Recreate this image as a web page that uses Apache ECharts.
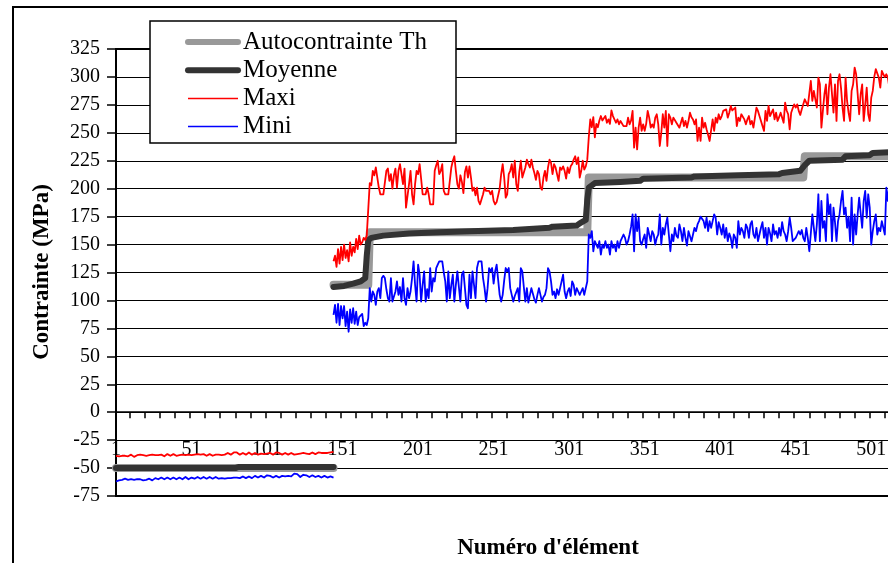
<!DOCTYPE html>
<html><head><meta charset="utf-8">
<script src="https://cdn.jsdelivr.net/npm/echarts@6/dist/echarts.min.js"></script>
<style>html,body{margin:0;padding:0;overflow:hidden;background:#fff}#c{width:1100px;height:563px}</style>
</head><body><div id="c"></div><script>
const FONT = "'Liberation Serif','Times New Roman',serif";

// element numbers (category axis)
const elementCount = 573;
const categories = [];
for (let i = 1; i <= elementCount; i++) categories.push(String(i));

const seriesNames = ['Autocontrainte Th', 'Moyenne', 'Maxi', 'Mini'];

// ---- negative block : elements 1..145 ----
const negStart = 1;
const maxiNeg = [-39,-38.5,-39.5,-38,-39,-40,-39,-38.5,-39.5,-39,-38,-39,-40,-39.5,-38.5,-39,-38,-39,-38.5,-39.5,
-39,-38,-38.5,-39.5,-38,-39,-38.5,-37.5,-38.5,-39,-38,-39,-39.5,-38,-37.5,-38.5,-39,-38,-37.5,-38.5,
-39,-38,-38.5,-37.5,-38,-39,-38.5,-37.5,-38,-39,-38.5,-37.5,-38,-39,-37.5,-36.5,-38,-38.5,-37.5,-38,
-39,-38.5,-37.5,-38,-39,-38.5,-38,-37,-38,-39,-38.5,-37.5,-38,-37,-36.5,-37.5,-38,-37.5,-36,-35.5,
-36,-37,-38,-37,-36.5,-37.5,-38,-37,-36,-37,-38,-37.5,-36.5,-37,-38,-38.5,-37,-36.5,-37.5,-38,
-37,-36,-36.5,-37.5,-38,-37,-36,-35.5,-36.5,-37.5,-38,-37,-36.5,-37.5,-38,-37.5,-36.5,-37,-38,-38.5,
-37.5,-36.5,-37,-37.5,-36.5,-36,-37,-38,-37.5,-36.5,-36,-36.5,-37.5,-37,-36,-35.5,-36.5,-37,-36.5,-36,
-36.5,-35.5,-36,-36.5,-35.5];
const miniNeg = [-62,-62.5,-61,-60,-60.5,-61,-59.5,-60,-60.5,-61,-60,-59.5,-60.5,-61,-60,-59,-60,-60.5,-61,-61.5,
-60.5,-60,-59.5,-60,-61,-60,-59,-59.5,-60,-59,-58.5,-59.5,-60,-59,-58.5,-59,-60,-59.5,-58.5,-59,
-60,-59.5,-58.5,-59,-60,-59,-58,-59,-60,-59.5,-58.5,-59,-59.5,-58.5,-58,-59,-59.5,-58.5,-58,-58.5,
-59.5,-59,-58,-58.5,-59.5,-59,-58,-58.5,-59.5,-60,-59,-58.5,-59.5,-60,-59,-58,-59,-59.5,-58.5,-58,
-58.5,-59.5,-59,-58,-57.5,-58.5,-59,-58,-57.5,-58.5,-59,-58,-57,-58,-58.5,-57.5,-57,-58,-58.5,-57.5,
-56.5,-55.5,-57,-58,-58.5,-57.5,-57,-58,-58.5,-57.5,-57,-58,-57.5,-56.5,-57,-58,-57.5,-56,-55,-54.5,
-55.5,-57,-58,-57,-56,-55,-56.5,-57.5,-58,-57,-56.5,-57.5,-58,-57.5,-57,-58,-58.5,-57.5,-57,-58,
-58.5,-58,-57.5,-58,-58.5];
const moyenneNegElem = [1, 80, 82, 145];
const moyenneNegVal = [-50, -50, -49, -49];
const thNegElem = [1, 145];
const thNegVal = [-50, -50];

// ---- positive block : elements 145.. ----
const posStart = 145;
const maxiPos = [
135,140,130,146,133,148,136,150,138,145,135,152,140,148,143,155,146,158,150,152,156,154,158,157,
205,203,216,212,219,210,201,195,195,195,195,216,218,207,213,200,212,218,201,216,222,213,204,218,183,184,
204,216,195,186,204,216,213,222,209,195,195,195,201,195,186,186,186,216,221,225,213,216,222,198,195,195,
195,195,219,225,229,216,204,
200,212,206,196,215,220,210,
220,210,198,201,194,201,189,186,186,195,201,198,198,198,195,198,189,186,188,188,200,213,222,210,192,195,
213,216,222,210,225,204,198,215,225,210,210,219,226,222,219,226,219,214,208,216,213,201,199,210,216,207,
219,226,223,213,222,219,219,207,219,217,220,216,209,219,214,220,222,226,229,222,228,210,216,225,217,220,226,
246,262,255,264,246,258,255,261,265,261,262,265,259,262,258,270,265,
263.6,259,262,257.6,260.6,260.6,256,254.6,256,263.6,257.6,261,269.6,236.7,254.6,235.2,254.6,263.6,251.7,257.6,
251.7,258,269.6,263.6,254.6,257.6,254.6,263.6,266.6,257.6,238.2,250,266.6,254.6,269.6,238.2,266.6,263.6,257.6,263.6,
262,259,257.6,254.6,254.6,263.6,256,260.6,254.6,260.6,268,264,262,257.6,262,242.7,254.6,242.7,263.6,254.6,
259,253,248,242.7,242.7,262,251.7,263.6,259,266.6,262,265,269.6,268,271,263.6,268,274,270,269.6,
272.6,256,263.6,260.6,266.6,265,262,257.6,262,265,257.6,260.6,254.6,263.6,272.6,269.6,
265,260.6,256,251.7,269.6,260.6,274,265,268,271,262,268,260.6,264,268,263.6,259,277,270,266.6,
253,268,272,275.5,272.6,275.5,269.6,266,271,272.6,280,277,274,272.6,296.4,278.5,287.5,280,272.6,299.4,
293.4,254.6,270,284.5,293.4,266.6,290.4,302.4,285,268,293.4,260.6,296.4,302.4,290,272.6,260.6,299.4,278.5,268,
260.6,287.5,293.4,308.4,302.4,285,266.6,284.5,293.4,260.6,275,290.4,266.6,260.6,281.5,287.5,300,307,308.4,299.4,
290.4,305.4,302.4,300,302.4,299.4,290.4,284.5,260.6,275.5,287.5,293.4];
const miniPos = [
87,96,80,97,78,95,84,95,77,90,72,92,80,93,79,90,78,85,86,88,77,80,78,84,
111,99,108,105,96,108,111,102,120,122,120,110,102,99,120,99,99,108,117,105,
112,99,120,102,96,111,102,108,120,135,114,99,132,123,99,114,126,99,110,102,
129,108,120,117,129,132,135,135,135,125,117,99,126,102,114,123,99,114,126,112,
99,123,126,111,96,93,123,102,126,
126,102,129,135,135,135,120,111,99,111,129,126,129,115,126,132,131,105,99,105,
118,129,126,129,111,105,99,104,105,111,99,129,126,112,99,111,98,99,111,106,
101,98,105,111,105,99,103,105,111,129,126,117,105,108,102,110,105,111,117,123,
108,102,108,111,104,117,114,105,111,108,105,108,111,105,111,117,
159,156,162,144,153,150,147,153,141,150,147,153,147,150,141,153,147,
150,144,153,147,153,156,159,156,150,153,159,166,177,144,177,162,174,153,150,155,
159,147,165,159,153,162,159,150,156,159,177,150,165,159,168,174,159,144,159,153,
165,158,156,168,162,153,165,156,149,162,162,153,159,165,162,168,171,175,174,171,
165,174,162,171,165,171,177,174,159,170,165,159,168,156,165,153,160,156,147,159,
156,147,171,159,165,162,156,168,165,156,168,171,159,156,165,153,
159,165,170,156,165,150,165,160,153,168,159,162,156,165,158,170,162,159,153,162,
174,165,153,153,156,159,162,159,163,156,153,165,156,144,160,177,165,153,168,195,
153,189,165,171,153,195,177,186,153,183,170,153,171,177,189,198,177,183,165,175,
153,192,150,177,159,177,192,178,165,189,198,174,195,183,150,162,171,177,159,165,
162,171,165,159,201,189,204,192];
const moyennePosElem = [145,152,158,163,166,167,168,170,178,195,215,235,264,265,288,290,306,308,312,313,314,318,335,348,350,382,384,413,440,442,454,457,460,482,484,500,502,520];
const moyennePosVal  = [112,113,115,117,120,140,154,156,158,160,161,162,163,164,165,166,167,169,172,190,201,205,206,207,209,210,211,212,213,214,216,221,225,226,229,230,232,233];
const thPosElem = [145,168,169,313,314,456,457,520];
const thPosVal  = [114,114,161,161,210,210,229,229];

// y axis
const yMin = -75, yMax = 325, yStep = 25;

function seq(start, vals) { return vals.map((v, k) => [start - 1 + k, v]); }
function pairs(elems, vals) { return elems.map((e, k) => [e - 1, vals[k]]); }

const COLORS = { th: '#999999', moy: '#333333', maxi: '#ff0000', mini: '#0000ff' };
function thick(name, color, w, data) {
  return { name, type: 'line', symbol: 'none', data, animation: false,
    lineStyle: { color, width: w, cap: 'round', join: 'round' }, itemStyle: { color } };
}
function thin(name, color, data) {
  return { name, type: 'line', symbol: 'none', data, animation: false,
    lineStyle: { color, width: 1.8, join: 'round' }, itemStyle: { color } };
}
const hiddenSymbol = { opacity: 0, borderWidth: 0 };

const chart = echarts.init(document.getElementById('c'), null, { renderer: 'canvas' });
chart.setOption({
  animation: false,
  backgroundColor: '#fff',
  grid: { left: 116, top: 49, width: 864, height: 447, show: true, borderColor: '#000', borderWidth: 2, backgroundColor: 'transparent' },
  xAxis: {
    type: 'category', data: categories, boundaryGap: false,
    axisLine: { onZero: true, lineStyle: { color: '#000', width: 1.5 } },
    axisTick: { show: true, interval: (i) => i % 10 === 9, length: 6, lineStyle: { color: '#000', width: 1.5 } },
    axisLabel: { interval: 49, margin: -56, showMinLabel: true, hideOverlap: false, color: '#000', fontFamily: FONT, fontSize: 20 },
    splitLine: { show: false }
  },
  yAxis: {
    type: 'value', min: yMin, max: yMax, interval: yStep,
    axisLine: { show: true, onZero: false, lineStyle: { color: '#000', width: 2 } },
    axisTick: { show: true, length: 9, lineStyle: { color: '#000', width: 1.5 } },
    axisLabel: { margin: 16, color: '#000', fontFamily: FONT, fontSize: 20 },
    splitLine: { show: true, lineStyle: { color: '#000', width: 1.2 } }
  },
  legend: {
    orient: 'vertical', left: 185, top: 28, padding: 0, itemWidth: 50, itemHeight: 14, itemGap: 0.2,
    z: 20, selectedMode: false,
    textStyle: { fontFamily: FONT, fontSize: 25, color: '#000', lineHeight: 28 },
    data: [
      { name: seriesNames[0], itemStyle: hiddenSymbol, lineStyle: { width: 6, color: COLORS.th, cap: 'round' } },
      { name: seriesNames[1], itemStyle: hiddenSymbol, lineStyle: { width: 6, color: COLORS.moy, cap: 'round' } },
      { name: seriesNames[2], itemStyle: hiddenSymbol, lineStyle: { width: 1.5, color: COLORS.maxi } },
      { name: seriesNames[3], itemStyle: hiddenSymbol, lineStyle: { width: 1.5, color: COLORS.mini } }
    ]
  },
  graphic: [
    { type: 'rect', z: -10, silent: true, shape: { x: 13, y: 7, width: 1200, height: 700 },
      style: { fill: 'transparent', stroke: '#000', lineWidth: 2 } },
    { type: 'rect', z: 15, silent: true, shape: { x: 150, y: 21, width: 306, height: 122 },
      style: { fill: '#fff', stroke: '#000', lineWidth: 1.5 } },
    { type: 'text', z: 15, silent: true, x: 42, y: 272, rotation: Math.PI / 2,
      style: { text: 'Contrainte (MPa)', fontFamily: FONT, fontSize: 23, fontWeight: 'bold', fill: '#000',
        align: 'center', verticalAlign: 'middle', textAlign: 'center', textVerticalAlign: 'middle' } },
    { type: 'text', z: 15, silent: true, x: 548, y: 548,
      style: { text: "Numéro d'élément", fontFamily: FONT, fontSize: 23, fontWeight: 'bold', fill: '#000',
        align: 'center', verticalAlign: 'middle', textAlign: 'center', textVerticalAlign: 'middle' } }
  ],
  series: [
    thick(seriesNames[0], COLORS.th, 8, pairs(thNegElem, thNegVal)),
    thick(seriesNames[0], COLORS.th, 8, pairs(thPosElem, thPosVal)),
    thick(seriesNames[1], COLORS.moy, 6, pairs(moyenneNegElem, moyenneNegVal)),
    thick(seriesNames[1], COLORS.moy, 6, pairs(moyennePosElem, moyennePosVal)),
    thin(seriesNames[2], COLORS.maxi, seq(negStart, maxiNeg)),
    thin(seriesNames[2], COLORS.maxi, seq(posStart, maxiPos)),
    thin(seriesNames[3], COLORS.mini, seq(negStart, miniNeg)),
    thin(seriesNames[3], COLORS.mini, seq(posStart, miniPos))
  ]
});
</script></body></html>
